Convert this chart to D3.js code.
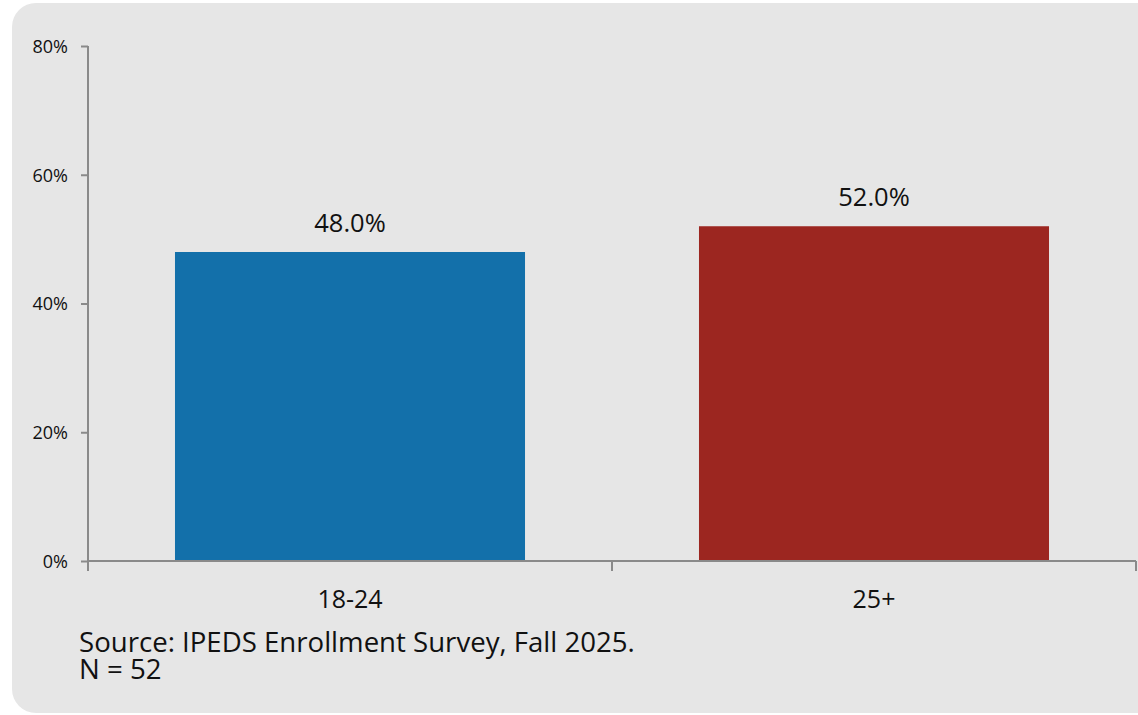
<!DOCTYPE html>
<html>
<head>
<meta charset="utf-8">
<script src="https://cdn.jsdelivr.net/npm/d3@7"></script>
<style>
  html, body { margin: 0; padding: 0; background: #ffffff; }
  svg { display: block; }
  text { font-family: "Open Sans", "Noto Sans", sans-serif; fill: #111; }
</style>
</head>
<body>
<svg id="chart" width="1138" height="715"></svg>
<script>
const categories = ["18-24", "25+"];
const values = [48.0, 52.0];
const barColors = ["#1370aa", "#9c2620"];
const yTicks = [0, 20, 40, 60, 80];
const sourceLines = ["Source: IPEDS Enrollment Survey, Fall 2025.", "N = 52"];

(function () {
const svg = d3.select("#chart");
const W = 1138, H = 715;

svg.append("rect")
  .attr("x", 12).attr("y", 3)
  .attr("width", W + 40).attr("height", 710)
  .attr("rx", 24).attr("ry", 24)
  .attr("fill", "#e6e6e6");

const pLeft = 88, pRight = 1136, pTop = 46, pBottom = 561;

const x = d3.scaleBand().domain(categories).range([pLeft, pRight])
  .paddingInner(0.332).paddingOuter(0.166);
const y = d3.scaleLinear().domain([0, 80]).range([pBottom, pTop]);

// bars
svg.selectAll("rect.bar").data(values).enter().append("rect")
  .attr("class", "bar")
  .attr("x", (d, i) => x(categories[i]))
  .attr("y", d => y(d))
  .attr("width", x.bandwidth())
  .attr("height", d => y(0) - y(d))
  .attr("fill", (d, i) => barColors[i]);

// data labels
svg.selectAll("text.dl").data(values).enter().append("text")
  .attr("class", "dl")
  .attr("x", (d, i) => x(categories[i]) + x.bandwidth() / 2)
  .attr("y", d => y(d) - 20)
  .attr("text-anchor", "middle")
  .attr("font-size", 25.5)
  .text(d => d.toFixed(1) + "%");

// y axis
const yAxis = d3.axisLeft(y).tickValues(yTicks).tickFormat(d => d + "%")
  .tickSize(7).tickPadding(13);
const yg = svg.append("g").attr("transform", `translate(${pLeft},0)`).call(yAxis);
yg.select(".domain").attr("stroke", "#8a8a8a").attr("stroke-width", 2)
  .attr("d", `M0,${pTop}V${pBottom}`);
yg.selectAll(".tick line").attr("stroke", "#8a8a8a").attr("stroke-width", 2);
yg.selectAll(".tick text").attr("font-size", 18).attr("fill", "#111")
  .attr("dy", "0.35em")
  .style("font-family", '"Open Sans", "Noto Sans", sans-serif');

// x axis
const xEdge = d3.scaleLinear().domain([0, categories.length]).range([pLeft, pRight]);
const xg = svg.append("g").attr("transform", `translate(0,${pBottom})`);
xg.append("line").attr("x1", pLeft).attr("x2", pRight).attr("y1", 0).attr("y2", 0)
  .attr("stroke", "#8a8a8a").attr("stroke-width", 2);
xg.selectAll("line.xt").data(d3.range(categories.length + 1)).enter().append("line")
  .attr("class", "xt")
  .attr("x1", d => xEdge(d)).attr("x2", d => xEdge(d))
  .attr("y1", 0).attr("y2", 10)
  .attr("stroke", "#8a8a8a").attr("stroke-width", 2);
xg.selectAll("text.xl").data(categories).enter().append("text")
  .attr("class", "xl")
  .attr("x", d => x(d) + x.bandwidth() / 2)
  .attr("y", 47)
  .attr("text-anchor", "middle")
  .attr("font-size", 25)
  .text(d => d);

// source
svg.selectAll("text.src").data(sourceLines).enter().append("text")
  .attr("class", "src")
  .attr("x", 79)
  .attr("y", (d, i) => 652 + i * 27)
  .attr("font-size", 27.6)
  .text(d => d);
})();
</script>
</body>
</html>
